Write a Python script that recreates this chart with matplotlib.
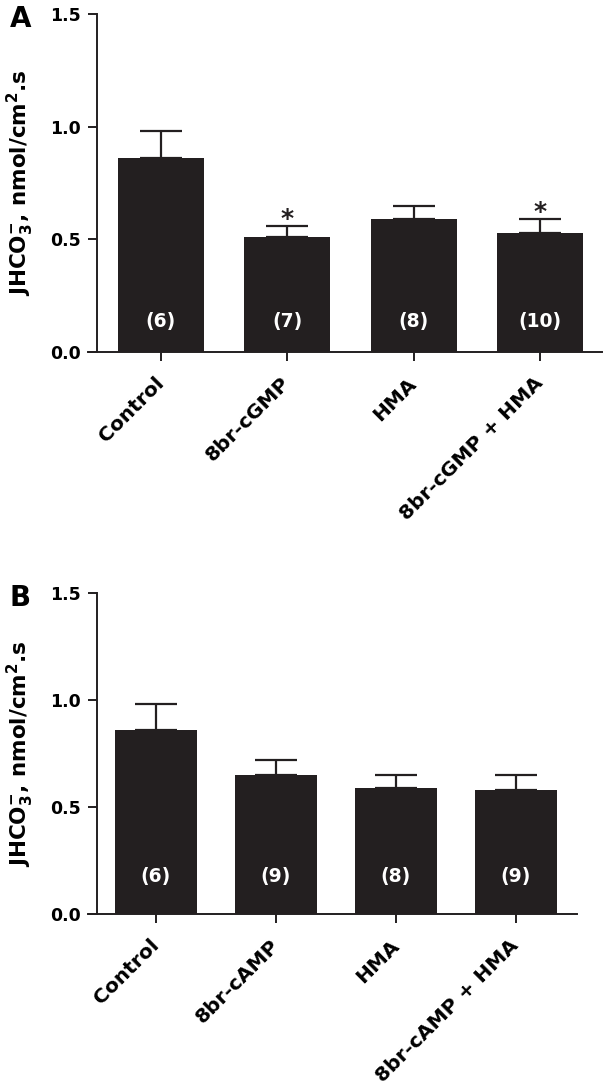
import matplotlib

matplotlib.use("Agg")
import matplotlib.pyplot as plt
from matplotlib.transforms import ScaledTranslation

plt.rcParams["font.family"] = ["DejaVu Sans"]
plt.rcParams["font.weight"] = "bold"
plt.rcParams["mathtext.fontset"] = "dejavusans"

# Panel A
labels_a = ["Control", "8br-cGMP", "HMA", "8br-cGMP + HMA"]
means_a = [0.86, 0.51, 0.59, 0.53]
sem_a = [0.12, 0.05, 0.06, 0.06]
n_a = ["(6)", "(7)", "(8)", "(10)"]
sig_a = [False, True, False, True]

# Panel B
labels_b = ["Control", "8br-cAMP", "HMA", "8br-cAMP + HMA"]
means_b = [0.86, 0.65, 0.59, 0.58]
sem_b = [0.12, 0.07, 0.06, 0.07]
n_b = ["(6)", "(9)", "(8)", "(9)"]
sig_b = [False, False, False, False]

yticks = [0.0, 0.5, 1.0, 1.5]
bar_color = "#231f20"
ylabel = r"JHCO$_\mathbf{3}^{\mathbf{-}}$, nmol/cm$^\mathbf{2}$.s"

W, H = 603, 1091
fig = plt.figure(figsize=(W / 100, H / 100), dpi=100)


def panel(rect, labels, means, sem, ns, sig, letter, xlim, n_y):
    ax = fig.add_axes(rect)
    x = list(range(len(labels)))
    ax.bar(x, means, width=0.68, color=bar_color, zorder=2)
    for xi, m, e in zip(x, means, sem):
        ax.errorbar(xi, m, yerr=[[0], [e]], fmt="none", ecolor=bar_color,
                    elinewidth=1.6, capsize=15, capthick=1.6, zorder=1)
    for xi, n in zip(x, ns):
        ax.text(xi, n_y, n, color="white", ha="center", va="center",
                fontsize=13.5, fontweight="bold")
    for xi, m, e, s in zip(x, means, sem, sig):
        if s:
            ax.annotate("*", (xi, m + e), xytext=(0, 0), textcoords="offset points",
                        ha="center", va="baseline", fontsize=18,
                        fontweight="bold", color=bar_color)
    ax.set_xlim(*xlim)
    ax.set_ylim(0, 1.5)
    ax.set_yticks(yticks)
    ax.set_yticklabels([f"{t:.1f}" for t in yticks])
    ax.set_xticks(x)
    ax.set_xticklabels(labels, rotation=45, ha="right", va="center",
                       rotation_mode="anchor")
    shift = ScaledTranslation(-4 / 100, 0, fig.dpi_scale_trans)
    for lab in ax.get_xticklabels():
        lab.set_fontsize(14.5)
        lab.set_fontweight("bold")
        lab.set_transform(lab.get_transform() + shift)
    for lab in ax.get_yticklabels():
        lab.set_fontsize(12.5)
        lab.set_fontweight("bold")
    ax.tick_params(direction="out", length=6.5, width=1.4, color=bar_color, pad=5)
    ax.tick_params(axis="x", pad=14)
    for side in ("top", "right"):
        ax.spines[side].set_visible(False)
    for side in ("left", "bottom"):
        ax.spines[side].set_linewidth(1.4)
        ax.spines[side].set_color(bar_color)
    # bottom axis starts a tick-length left of the y axis
    span = xlim[1] - xlim[0]
    ax.spines["bottom"].set_bounds(xlim[0] - span * 9 / (rect[2] * W), xlim[1])
    mid = rect[1] + rect[3] / 2
    fig.text(20 / W, mid, ylabel, rotation=90, ha="center", va="center",
             fontsize=15.5, fontweight="bold")
    top_px = (1 - rect[1] - rect[3]) * H
    fig.text(10 / W, 1 - (top_px + 5) / H, letter, fontsize=20,
             fontweight="bold", ha="left", va="center")
    return ax


panel([97 / W, 1 - 352 / H, (602 - 97) / W, (352 - 14) / H],
      labels_a, means_a, sem_a, n_a, sig_a, "A", (-0.506, 3.49), 0.137)
panel([97 / W, 1 - 914 / H, (577 - 97) / W, (914 - 593) / H],
      labels_b, means_b, sem_b, n_b, sig_b, "B", (-0.49, 3.508), 0.173)

fig.savefig("out.png", dpi=100)
